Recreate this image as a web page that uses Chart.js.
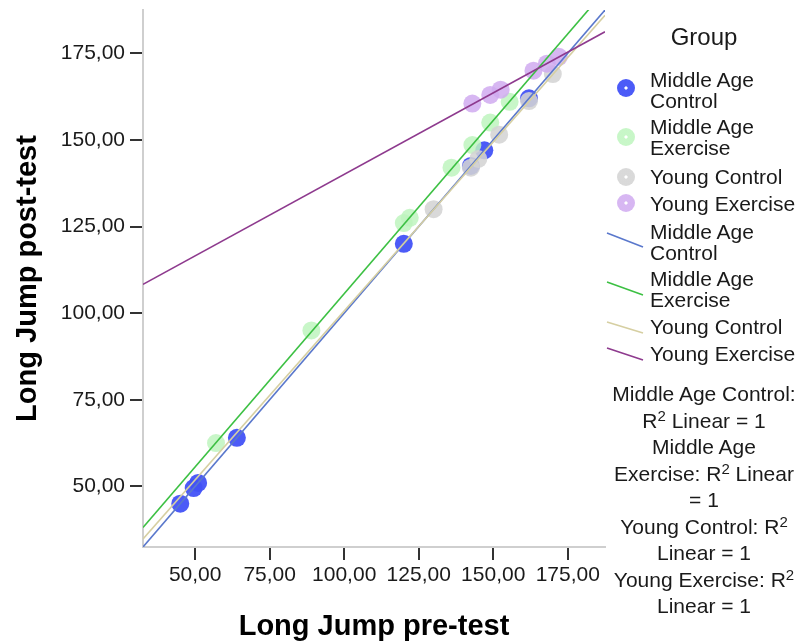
<!DOCTYPE html>
<html><head><meta charset="utf-8">
<script src="https://cdn.jsdelivr.net/npm/chart.js@4/dist/chart.umd.min.js"></script>
<style>
body{margin:0;background:#fff;}
#wrap{position:relative;width:808px;height:644px;font-family:"Liberation Sans",Arial,sans-serif;color:#1a1a1a;overflow:hidden;}
#c{position:absolute;left:0;top:0;}
.t{position:absolute;font-size:21px;line-height:21px;white-space:nowrap;}
.dot{position:absolute;width:18px;height:18px;border-radius:50%;}
.r2{position:absolute;left:600px;width:208px;top:381px;text-align:center;font-size:21px;line-height:26.5px;white-space:nowrap;}
.r2 sup{font-size:15px;line-height:0;vertical-align:7px;}
</style></head>
<body>
<div id="wrap">
<canvas id="c" width="808" height="644"></canvas>
<div id="legend"></div>
</div>
<script>
// ---- data ----
const groups = ['Middle Age Control','Middle Age Exercise','Young Control','Young Exercise'];
const macPre  = [45, 49.5, 51, 64, 120, 142.5, 147, 162];
const macPost = [45, 49.5, 51, 64, 120, 142.5, 147, 162];
const maePre  = [57, 89, 120, 122, 136, 143, 149, 155.5];
const maePost = [62.5, 95, 126, 127.5, 142, 148.5, 155, 161];
const ycPre   = [130, 142.5, 145, 152, 162, 170];
const ycPost  = [130, 142, 144.5, 151.5, 161.2, 169];
const yePre   = [143, 149, 152.5, 163.5, 168, 172];
const yePost  = [160.5, 163, 164.5, 170, 172, 174];
// fit lines: y at the two ends of the axis range
const fitX   = [32.5, 187.5];
const fitMac = [32.5, 187.5];
const fitMae = [38.1, 193.1];
const fitYc  = [34.8, 186.0];
const fitYe  = [108.3, 181.2];
const tickValues = [50, 75, 100, 125, 150, 175];
const tickLabels = ['50,00','75,00','100,00','125,00','150,00','175,00'];
const xTitle = 'Long Jump pre-test';
const yTitle = 'Long Jump post-test';
const legendTitle = 'Group';
const r2Text = 'R<sup>2</sup> Linear = 1';
const axisMin = 32.5, axisMax = 187.5;

const pointColors = ['rgba(66,82,247,0.95)','rgba(190,245,190,0.85)','rgba(212,212,212,0.88)','rgba(208,170,240,0.85)'];
const lineColors = ['#5a78cc','#3cc043','#d6cfa2','#8e3a8e'];

const pairs = (xs, ys) => xs.map((x, i) => ({x: x, y: ys[i]}));
const pts = [pairs(macPre, macPost), pairs(maePre, maePost), pairs(ycPre, ycPost), pairs(yePre, yePost)];
const fits = [fitMac, fitMae, fitYc, fitYe].map(f => pairs(fitX, f));

const datasets = [];
pts.forEach((d, i) => datasets.push({
  label: groups[i], data: d, order: 7 - i,
  pointRadius: 9, pointHoverRadius: 9, borderWidth: 0, pointBorderWidth: 0,
  backgroundColor: pointColors[i], pointBackgroundColor: pointColors[i], showLine: false
}));
fits.forEach((d, i) => datasets.push({
  label: groups[i], data: d, order: 3 - i, showLine: true, pointRadius: 0,
  borderColor: lineColors[i], borderWidth: 1.6, backgroundColor: lineColors[i], clip: 0
}));

const tickFont = {family: '"Liberation Sans", Arial, sans-serif', size: 21};
const titleFont = {family: '"Liberation Sans", Arial, sans-serif', size: 29, weight: 'bold', lineHeight: 1.2};
function setTicks(scale){ scale.ticks = tickValues.map(v => ({value: v})); }
function fmt(v){ const k = tickValues.indexOf(v); return k >= 0 ? tickLabels[k] : ''; }

new Chart(document.getElementById('c'), {
  type: 'scatter',
  data: {datasets: datasets},
  options: {
    responsive: false, animation: false,
    layout: {padding: {left: 0, top: 10, right: 203, bottom: 0}},
    plugins: {legend: {display: false}, tooltip: {enabled: false}},
    events: [],
    scales: {
      x: {
        type: 'linear', min: axisMin, max: axisMax,
        afterBuildTicks: setTicks,
        afterFit: s => { s.height = 97; s.paddingLeft = 0; s.paddingRight = 0; },
        border: {display: true, color: '#cfcfcf', width: 2},
        grid: {display: true, drawOnChartArea: false, drawTicks: true, tickLength: 13, tickColor: '#333', lineWidth: 2},
        ticks: {callback: fmt, font: tickFont, color: '#1a1a1a', padding: 3, maxRotation: 0, autoSkip: false},
        title: {display: true, text: xTitle, font: titleFont, color: '#000', padding: {top: 0, bottom: 0}}
      },
      y: {
        type: 'linear', min: axisMin, max: axisMax,
        afterBuildTicks: setTicks,
        afterFit: s => { s.width = 143; s.paddingTop = 0; s.paddingBottom = 0; },
        border: {display: true, color: '#cfcfcf', width: 2},
        grid: {display: true, drawOnChartArea: false, drawTicks: true, tickLength: 13, tickColor: '#333', lineWidth: 2},
        ticks: {callback: fmt, font: tickFont, color: '#1a1a1a', padding: 5, autoSkip: false},
        title: {display: true, text: yTitle, font: titleFont, color: '#000', padding: {top: 11, bottom: 0}}
      }
    }
  }
});

// ---- legend (HTML text) ----
const lg = document.getElementById('legend');
let html = '<div class="t" style="left:600px;width:208px;text-align:center;top:23px;font-size:24px;line-height:28px;">' + legendTitle + '</div>';
const wrapName = n => n.replace('Middle Age ', 'Middle Age<br>');
const textTops = [69, 116, 166, 193, 221, 268, 316, 343];
const iconY = [88, 137, 177, 203];
const lineY = [[233,247],[282,295],[322,333],[348,360]];
groups.forEach((g, i) => {
  html += '<div class="dot" style="left:617px;top:' + (iconY[i]-9) + 'px;background:radial-gradient(circle,#fff 0 1.2px,' + pointColors[i] + ' 2px);"></div>';
  html += '<div class="t" style="left:650px;top:' + textTops[i] + 'px;">' + wrapName(g) + '</div>';
});
let svg = '<svg style="position:absolute;left:0;top:0;" width="808" height="644">';
groups.forEach((g, i) => {
  svg += '<line x1="607" y1="' + lineY[i][0] + '" x2="643" y2="' + lineY[i][1] + '" stroke="' + lineColors[i] + '" stroke-width="1.6"/>';
  html += '<div class="t" style="left:650px;top:' + textTops[i+4] + 'px;">' + wrapName(g) + '</div>';
});
svg += '</svg>';
const r2Lines = [
  groups[0] + ':', r2Text,
  'Middle Age', 'Exercise: ' + r2Text.replace(' = 1', ''), '= 1',
  'Young Control: R<sup>2</sup>', 'Linear = 1',
  'Young Exercise: R<sup>2</sup>', 'Linear = 1'
];
html += '<div class="r2">' + r2Lines.join('<br>') + '</div>';
lg.innerHTML = svg + html;
</script>
</body></html>
